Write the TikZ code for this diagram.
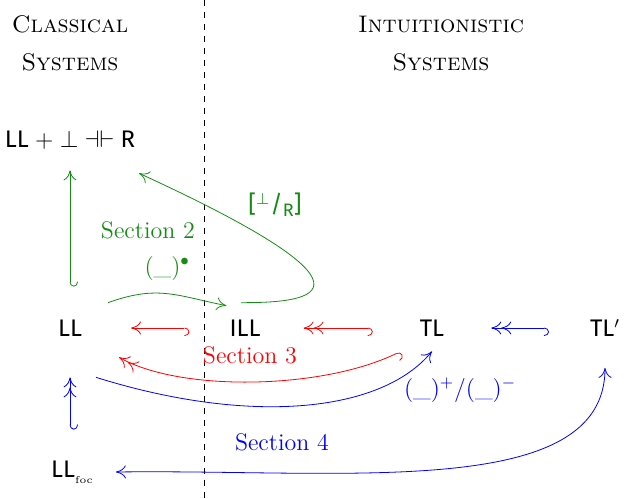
\documentclass[tikz,border=0pt]{standalone}
\usepackage{fontspec}
\setsansfont{Fira Sans}
\usetikzlibrary{arrows.meta}
\definecolor{secgreen}{RGB}{20,140,20}
\tikzset{
    >={Computer Modern Rightarrow[length=5pt,width=6.5pt]},
    hooktail/.style={{Hooks[#1,length=2.5pt,width=8pt]}-{>}},
    hooktwo/.style={{Hooks[#1,length=2.5pt,width=8pt]}-{>>}},
}

\begin{document}
\begin{tikzpicture}[x=0.5pt, y=-0.5pt, font=\large]
    \useasboundingbox (0,0) rectangle (626,498);
    \draw[dashed] (204,0) -- (204,498);

    % headings
    \node (clA) at (70,24) {\textsc{Classical}};
    \node (clB) at (70,62) {\textsc{Systems}};
    \node (inA) at (441,24) {\textsc{Intuitionistic}};
    \node (inB) at (441,62) {\textsc{Systems}};

    % systems
    \node (llr) at (70,140) {\textsf{LL $+$ $\bot$ $\dashv\vdash$ R}};
    \node (ll) at (70,328) {\textsf{LL}};
    \node (ill) at (245,328) {\textsf{ILL}};
    \node (tl) at (432,328) {\textsf{TL}};
    \node (tlp) at (605,328) {\textsf{TL$'$}};
    \node (llfoc) at (72,472) {\textsf{LL}\raisebox{-3pt}{\tiny foc}};

    % section 2
    \draw[secgreen, hooktail=left, shorten <=13pt, shorten >=7pt] (ll.north) -- (llr.south -| ll.north);
    \draw[secgreen, ->] ([xshift=9.5pt,yshift=5pt]ll.north east) .. controls +(50,-18) and +(-50,-10) .. node[above=3pt] (bul) {(\_)$^\bullet$} ([xshift=2pt,yshift=3.5pt]ill.north west);
    \draw[secgreen, ->] ([xshift=-2pt,yshift=5pt]ill.north) .. controls +(60,0) and +(270,124) .. ([xshift=-1.5pt,yshift=-8.5pt]llr.south east);
    \node[secgreen] (subst) at (275,205) {\textsf{[$^\bot$/\raisebox{-2pt}{\small R}]}};
    \node[secgreen] (sec2) at (148,230) {Section 2};

    % section 3
    \draw[red, hooktail=right, shorten <=16.5pt, shorten >=21pt] (ill.west) -- (ll.east);
    \draw[red, hooktwo=right, shorten <=20pt, shorten >=18pt] (tl.west) -- (ill.east);
    \draw[red, hooktwo=right] ([xshift=-6pt,yshift=-4pt]tl.south west) .. controls +(-78,38) and +(62,35) .. ([xshift=15pt,yshift=-7pt]ll.south east);
    \node[red] (sec3) at (250,355) {Section 3};

    % section 4
    \draw[blue, hooktwo=right, shorten <=17pt, shorten >=20pt] (tlp.west) -- (tl.east);
    \draw[blue, ->] ([xshift=3.5pt,yshift=-17pt]ll.south east) .. controls +(150,47) and +(-52,63) .. ([yshift=-4pt]tl.south);
    \draw[blue, hooktwo=left, shorten <=12pt, shorten >=17pt] (llfoc.north -| ll.south) -- (ll.south);
    \draw[blue, <->] ([xshift=8pt]llfoc.east) .. controls +(230,-3) and +(0,133) .. ([yshift=-12pt]tlp.south);
    \node[blue] (pm) at (460,390) {(\_)$^+$/(\_)$^-$};
    \node[blue] (sec4) at (282,442) {Section 4};
\end{tikzpicture}
\end{document}
